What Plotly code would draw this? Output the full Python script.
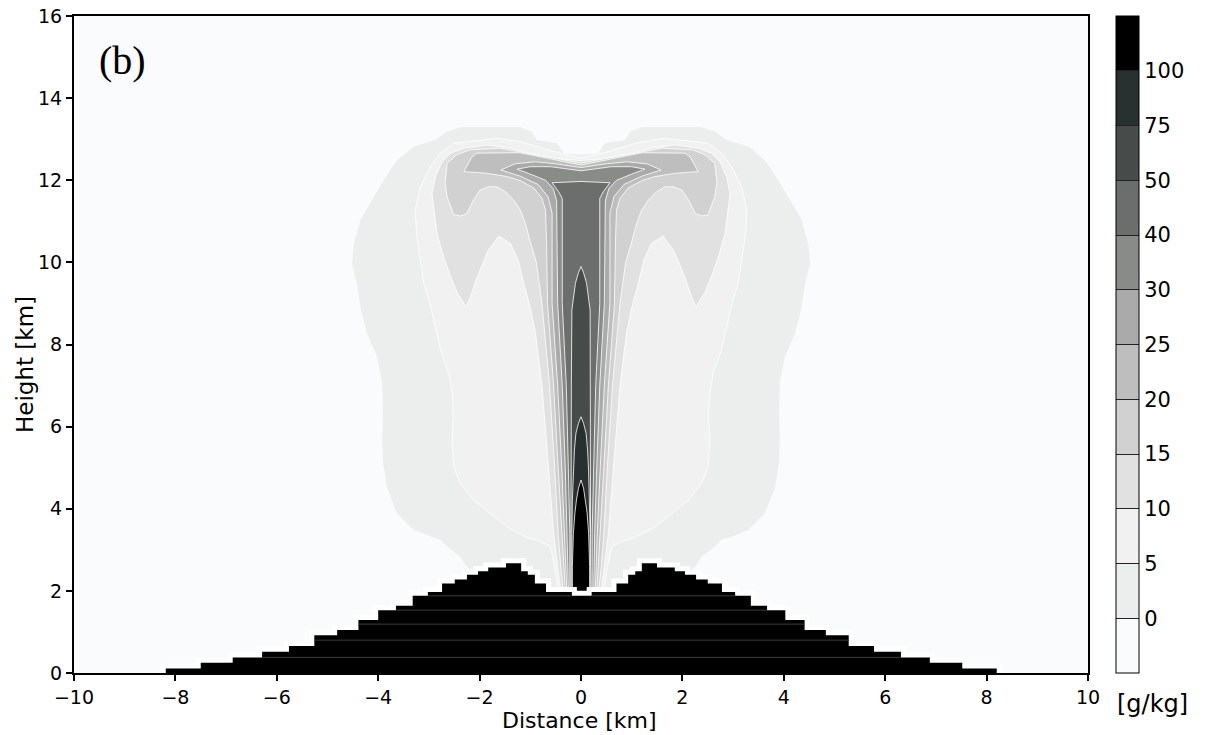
import plotly.graph_objects as go

# ---------------- data ----------------
LEVELS = [0, 5, 10, 15, 20, 25, 30, 40, 50, 75, 100]
BAND_COLORS = ["#fafbfd", "#eceeed", "#f0f1f0", "#e1e1e1", "#d1d1d1", "#bebebe",
               "#a9aaa9", "#898b89", "#6b6e6c", "#474c4a", "#293030", "#000000"]

X_TICKS = [-10, -8, -6, -4, -2, 0, 2, 4, 6, 8, 10]
Y_TICKS = [0, 2, 4, 6, 8, 10, 12, 14, 16]

# right-half contour boundaries (distance km, height km), from axis bottom to axis top
C0_X = [0, 1.5, 2.1, 2.25, 2.38, 2.64, 2.77, 2.97, 3.30, 3.63, 3.83, 3.91, 3.92, 3.91, 3.92, 4.02, 4.22, 4.35,
        4.42, 4.52, 4.48, 4.35, 4.16, 3.89, 3.63, 3.30, 2.87, 2.64, 2.38, 1.20, 0.97, 0.87, 0.47, 0.34, 0]
C0_Y = [1.8, 2.0, 2.45, 2.59, 2.83, 3.08, 3.24, 3.32, 3.48, 3.89, 4.53, 5.19, 5.68, 6.41, 7.05, 7.70, 8.27, 8.90,
        9.49, 9.98, 10.46, 11.03, 11.44, 12.00, 12.49, 12.82, 12.98, 13.19, 13.29, 13.29, 13.19, 12.98, 12.90, 12.66, 12.62]

C5_X = [0, 0.45, 0.52, 0.58, 0.61, 0.80, 1.10, 1.46, 1.79, 2.12, 2.38, 2.51, 2.54, 2.52, 2.54, 2.61, 2.77, 2.84,
        2.98, 3.10, 3.17, 3.24, 3.27, 3.17, 2.97, 2.77, 2.51, 1.66, 1.20, 0.54, 0]
C5_Y = [1.8, 2.0, 2.6, 2.95, 3.08, 3.20, 3.32, 3.56, 3.89, 4.21, 4.62, 5.02, 5.68, 6.24, 6.81, 7.30, 7.87, 8.27,
        9.0, 9.49, 10.06, 10.63, 11.28, 11.84, 12.33, 12.66, 12.90, 13.02, 12.94, 12.70, 12.54]

C10_X = [0, 0.40, 0.46, 0.54, 0.64, 0.77, 0.90, 1.00, 1.13, 1.24, 1.39, 1.62, 1.83, 2.05, 2.18, 2.27, 2.44, 2.57,
         2.71, 2.84, 2.90, 2.94, 2.87, 2.74, 2.57, 2.31, 1.85, 1.39, 0.87, 0.41, 0]
C10_Y = [1.8, 2.0, 2.6, 3.4, 5.0, 7.0, 8.3, 8.9, 9.49, 10.06, 10.46, 10.64, 10.29, 9.64, 9.16, 8.92, 9.26, 9.65,
         10.13, 10.71, 11.28, 11.68, 12.09, 12.45, 12.66, 12.78, 12.86, 12.78, 12.62, 12.52, 12.48]

C15_X = [0, 0.35, 0.40, 0.45, 0.52, 0.62, 0.77, 0.88, 1.0, 1.1, 1.2, 1.33, 1.49, 1.66, 1.82, 1.99, 2.12, 2.26,
         2.38, 2.51, 2.54, 2.64, 2.68, 2.64, 2.45, 2.2, 1.6, 0.8, 0]
C15_Y = [1.8, 2.0, 2.6, 3.4, 5.0, 7.0, 9.0, 10.0, 10.5, 10.96, 11.28, 11.52, 11.72, 11.84, 11.84, 11.76, 11.52, 11.18,
         11.13, 11.16, 11.28, 11.6, 11.93, 12.41, 12.62, 12.74, 12.78, 12.60, 12.42]

C20_X = [0, 0.31, 0.34, 0.38, 0.45, 0.54, 0.66, 0.68, 0.70, 0.77, 0.93, 1.20, 1.46, 1.85, 2.31, 2.15, 2.05, 1.2, 0.6, 0]
C20_Y = [1.8, 2.0, 2.6, 3.4, 5.0, 7.0, 9.0, 10.5, 11.28, 11.56, 11.81, 11.99, 12.09, 12.17, 12.21, 12.57, 12.66, 12.67,
         12.52, 12.37]

C25_X = [0, 0.28, 0.30, 0.32, 0.38, 0.46, 0.57, 0.57, 0.65, 0.85, 1.20, 1.58, 1.30, 0.9, 0.5, 0]
C25_Y = [1.8, 2.0, 2.6, 3.4, 5.0, 7.0, 9.0, 11.2, 11.6, 11.9, 12.1, 12.25, 12.40, 12.45, 12.40, 12.31]

C30_X = [0, 0.25, 0.26, 0.27, 0.31, 0.37, 0.46, 0.48, 0.55, 0.70, 1.00, 1.26, 1.0, 0.6, 0]
C30_Y = [1.8, 2.0, 2.6, 3.4, 5.0, 7.0, 9.0, 11.5, 11.8, 12.0, 12.15, 12.27, 12.33, 12.33, 12.23]

C40_X = [0, 0.22, 0.22, 0.22, 0.25, 0.29, 0.37, 0.37, 0.44, 0.57, 0]
C40_Y = [1.8, 2.0, 2.6, 3.4, 5.0, 7.0, 9.0, 11.56, 11.72, 11.94, 11.97]

C50_X = [0, 0.20, 0.19, 0.19, 0.19, 0.19, 0.18, 0.11, 0.05, 0]
C50_Y = [1.8, 2.0, 2.6, 3.4, 5.0, 7.0, 8.84, 9.49, 9.75, 9.90]

C75_X = [0, 0.18, 0.18, 0.17, 0.15, 0.13, 0.10, 0.05, 0]
C75_Y = [1.8, 2.0, 3.4, 4.21, 4.9, 5.43, 5.84, 6.08, 6.24]

C100_X = [0, 0.17, 0.17, 0.16, 0.15, 0.12, 0.09, 0.05, 0]
C100_Y = [1.8, 1.95, 2.59, 3.0, 3.40, 3.9, 4.21, 4.5, 4.70]

CONTOURS = [(C0_X, C0_Y), (C5_X, C5_Y), (C10_X, C10_Y), (C15_X, C15_Y), (C20_X, C20_Y), (C25_X, C25_Y),
            (C30_X, C30_Y), (C40_X, C40_Y), (C50_X, C50_Y), (C75_X, C75_Y), (C100_X, C100_Y)]

# terrain: cell edges (km) and cell heights (km)
MTN_EDGES = [-8.19, -7.50, -6.87, -6.29, -5.76, -5.26, -4.81, -4.39, -4.00, -3.65, -3.32, -3.02, -2.74, -2.49,
             -2.25, -2.03, -1.83, -1.48, -1.18, -1.05, -0.91, -0.69, -0.18, 0.21, 0.70, 0.93, 1.07, 1.20, 1.50,
             1.85, 2.05, 2.27, 2.50, 2.78, 3.04, 3.35, 3.67, 4.03, 4.41, 4.83, 5.28, 5.78, 6.31, 6.88, 7.52, 8.20]
MTN_H = [0.11, 0.25, 0.38, 0.52, 0.66, 0.92, 1.05, 1.29, 1.53, 1.64, 1.88, 1.97, 2.18, 2.28, 2.39, 2.48, 2.57,
         2.67, 2.48, 2.39, 2.18, 1.97, 1.88, 1.97, 2.18, 2.39, 2.48, 2.67, 2.57, 2.48, 2.39, 2.28, 2.18, 1.97,
         1.88, 1.64, 1.53, 1.29, 1.05, 0.92, 0.66, 0.52, 0.38, 0.25, 0.11]
MTN_GRID_LEVELS = [0.38, 0.80, 1.19, 1.53, 1.88]

# ---------------- figure ----------------
fig = go.Figure()

for k, (rx, ry) in enumerate(CONTOURS):
    xs = list(rx) + [-v for v in rx[::-1]]
    ys = list(ry) + list(ry[::-1])
    fig.add_trace(go.Scatter(
        x=xs, y=ys, mode="lines", fill="toself", fillcolor=BAND_COLORS[k + 1],
        line=dict(color="white", width=0 if k == 0 else 0.8),
        hoverinfo="skip", showlegend=False))

n = len(MTN_H)
mx = [MTN_EDGES[0]] + MTN_EDGES[:n] + [MTN_EDGES[n], MTN_EDGES[n]]
my = [0] + MTN_H + [MTN_H[-1], 0]
fig.add_trace(go.Scatter(x=mx, y=my, mode="lines", line=dict(color="white", width=10, shape="hv"),
                         hoverinfo="skip", showlegend=False))
fig.add_trace(go.Scatter(x=mx, y=my, mode="lines", fill="toself", fillcolor="black",
                         line=dict(color="black", width=0, shape="hv"),
                         hoverinfo="skip", showlegend=False))

# faint model-level lines inside the terrain
gx, gy = [], []
for lev in MTN_GRID_LEVELS:
    i = 0
    while i < n:
        if MTN_H[i] > lev + 0.005:
            j = i
            while j + 1 < n and MTN_H[j + 1] > lev + 0.005:
                j += 1
            gx += [MTN_EDGES[i], MTN_EDGES[j + 1], None]
            gy += [lev, lev, None]
            i = j + 1
        else:
            i += 1
fig.add_trace(go.Scatter(x=gx, y=gy, mode="lines", line=dict(color="#3c3c3c", width=1),
                         hoverinfo="skip", showlegend=False))

# colour bar
nb = len(BAND_COLORS)
cscale = []
for i, c in enumerate(BAND_COLORS):
    cscale += [[i / nb, c], [(i + 1) / nb, c]]
fig.add_trace(go.Scatter(
    x=[None], y=[None], mode="markers", showlegend=False, hoverinfo="skip",
    marker=dict(color=[0], colorscale=cscale, cmin=0, cmax=nb, showscale=True,
                colorbar=dict(x=(1116 - 74) / 1014, xanchor="left", y=0.5, yanchor="middle", len=1,
                              lenmode="fraction", thickness=23, thicknessmode="pixels",
                              outlinewidth=1, outlinecolor="black",
                              tickvals=list(range(1, nb)), ticktext=[str(v) for v in LEVELS],
                              ticks="inside", ticklen=23, tickwidth=1, tickcolor="#222",
                              tickfont=dict(family="DejaVu Sans", size=21, color="black"), xpad=0, ypad=0))))

axis_common = dict(showgrid=False, zeroline=False, showline=True, linecolor="black", linewidth=2, mirror=True,
                   ticks="outside", ticklen=6, tickwidth=2, tickcolor="black",
                   tickfont=dict(family="DejaVu Sans", size=19, color="black"))
fig.update_xaxes(range=[-10, 10], tickvals=X_TICKS, **axis_common)
fig.update_yaxes(range=[0, 16], tickvals=Y_TICKS, **axis_common)

fig.update_layout(
    width=1208, height=735, margin=dict(l=74, r=120, t=16, b=62, autoexpand=False),
    plot_bgcolor="#fafbfd", paper_bgcolor="white",
    annotations=[
        dict(text="(b)", x=0.0227, y=0.933, xref="paper", yref="paper", xanchor="left", yanchor="middle",
             showarrow=False, font=dict(family="Liberation Serif", size=40, color="black")),
        dict(text="Distance [km]", x=0.499, y=(673 - 720) / 657, xref="paper", yref="paper",
             xanchor="center", yanchor="middle", showarrow=False,
             font=dict(family="DejaVu Sans", size=22, color="black")),
        dict(text="Height [km]", x=(25 - 74) / 1014, y=(673 - 365) / 657, xref="paper", yref="paper",
             xanchor="center", yanchor="middle", textangle=-90, showarrow=False,
             font=dict(family="DejaVu Sans", size=23, color="black")),
        dict(text="[g/kg]", x=(1152 - 74) / 1014, y=(673 - 704) / 657, xref="paper", yref="paper",
             xanchor="center", yanchor="middle", showarrow=False,
             font=dict(family="DejaVu Sans", size=24, color="black")),
    ],
)

fig.write_html("out.html")
